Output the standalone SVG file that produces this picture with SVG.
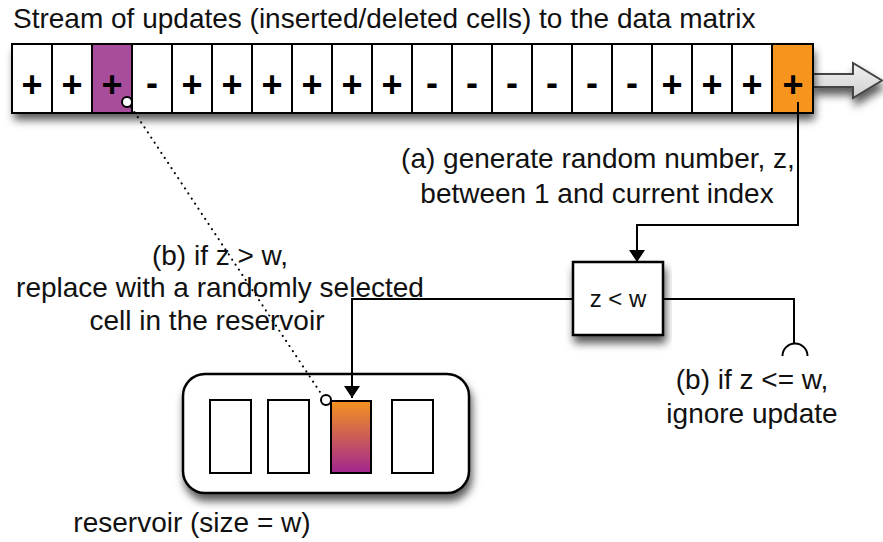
<svg xmlns="http://www.w3.org/2000/svg" width="883" height="542" viewBox="0 0 883 542">
  <style>
    .lbl { font-family: "Liberation Sans", Arial, Helvetica, sans-serif; font-size: 28px; fill: #111; }
    .sign { font-family: "Liberation Sans", Arial, sans-serif; font-size: 36px; font-weight: bold; fill: #000; text-anchor: middle; }
    .cell { fill: #fff; stroke: #000; stroke-width: 2; }
    .box { fill: #fff; stroke: #000; stroke-width: 2.5; }
    .wire { fill: none; stroke: #000; stroke-width: 2; }
    .dots { fill: none; stroke: #000; stroke-width: 2; stroke-dasharray: 0.1 6; stroke-linecap: round; }
    .ring { fill: #fff; stroke: #000; stroke-width: 2; }
  </style>
  <defs>
    <filter id="shadow" x="-10%" y="-20%" width="120%" height="170%">
      <feDropShadow dx="2" dy="7" stdDeviation="4.5" flood-color="#000" flood-opacity="0.65"/>
    </filter>
    <linearGradient id="swap" x1="0" y1="0" x2="0" y2="1">
      <stop offset="0" stop-color="#f4931f"/>
      <stop offset="1" stop-color="#a2268f"/>
    </linearGradient>
    <linearGradient id="pipe" x1="0" y1="0" x2="0" y2="1">
      <stop offset="0" stop-color="#f2f2f2"/>
      <stop offset="1" stop-color="#cfcfcf"/>
    </linearGradient>
    <marker id="head" viewBox="0 0 12 16" refX="12" refY="8" markerWidth="12" markerHeight="16" markerUnits="userSpaceOnUse" orient="auto">
      <path d="M0,0 L12,8 L0,16 Z" fill="#000"/>
    </marker>
  </defs>

  <rect width="883" height="542" fill="#fff"/>

  <!-- title -->
  <text id="title" class="lbl" x="13" y="28">Stream of updates (inserted/deleted cells) to the data matrix</text>

  <!-- outgoing stream arrow -->
  <g id="stream-arrow" filter="url(#shadow)">
    <polygon points="813,74 853,74 853,63 882,80.5 853,98 853,87 813,87" fill="url(#pipe)" stroke="#444" stroke-width="2"/>
  </g>

  <!-- update stream: 20 cells -->
  <g id="stream">
    <rect x="12" y="44" width="801" height="69" fill="#fff" filter="url(#shadow)"/>
    <rect class="cell" x="12" y="44" width="40" height="69"/>
    <rect class="cell" x="52" y="44" width="40" height="69"/>
    <rect class="cell" x="92" y="44" width="40" height="69" style="fill:#a84c9c"/>
    <rect class="cell" x="132" y="44" width="40" height="69"/>
    <rect class="cell" x="172" y="44" width="40" height="69"/>
    <rect class="cell" x="212" y="44" width="40" height="69"/>
    <rect class="cell" x="252" y="44" width="40" height="69"/>
    <rect class="cell" x="292" y="44" width="40" height="69"/>
    <rect class="cell" x="332" y="44" width="40" height="69"/>
    <rect class="cell" x="372" y="44" width="40" height="69"/>
    <rect class="cell" x="412" y="44" width="40" height="69"/>
    <rect class="cell" x="452" y="44" width="40" height="69"/>
    <rect class="cell" x="492" y="44" width="40" height="69"/>
    <rect class="cell" x="532" y="44" width="40" height="69"/>
    <rect class="cell" x="572" y="44" width="40" height="69"/>
    <rect class="cell" x="612" y="44" width="40" height="69"/>
    <rect class="cell" x="652" y="44" width="40" height="69"/>
    <rect class="cell" x="692" y="44" width="40" height="69"/>
    <rect class="cell" x="732" y="44" width="40" height="69"/>
    <rect class="cell" x="772" y="44" width="41" height="69" style="fill:#f7941d"/>
    <text class="sign" x="32" y="97">+</text>
    <text class="sign" x="72" y="97">+</text>
    <text class="sign" x="112" y="97">+</text>
    <text class="sign" x="152" y="95">-</text>
    <text class="sign" x="192" y="97">+</text>
    <text class="sign" x="232" y="97">+</text>
    <text class="sign" x="272" y="97">+</text>
    <text class="sign" x="312" y="97">+</text>
    <text class="sign" x="352" y="97">+</text>
    <text class="sign" x="392" y="97">+</text>
    <text class="sign" x="432" y="95">-</text>
    <text class="sign" x="472" y="95">-</text>
    <text class="sign" x="512" y="95">-</text>
    <text class="sign" x="552" y="95">-</text>
    <text class="sign" x="592" y="95">-</text>
    <text class="sign" x="632" y="95">-</text>
    <text class="sign" x="672" y="97">+</text>
    <text class="sign" x="712" y="97">+</text>
    <text class="sign" x="752" y="97">+</text>
    <text class="sign" x="793" y="97">+</text>
  </g>

  <!-- decision node -->
  <g id="decision">
    <rect class="box" x="573" y="262" width="90" height="73" filter="url(#shadow)"/>
    <text class="lbl" x="618" y="307" text-anchor="middle" style="font-size:24px">z &lt; w</text>
  </g>

  <!-- reservoir of w cells -->
  <g id="reservoir">
    <rect class="box" x="183" y="374" width="286" height="119" rx="22" filter="url(#shadow)"/>
    <rect class="cell" x="210" y="400" width="41" height="73"/>
    <rect class="cell" x="268" y="400" width="41" height="73"/>
    <rect class="cell" x="331" y="401" width="40" height="72" style="fill:url(#swap)"/>
    <rect class="cell" x="392" y="400" width="41" height="73"/>
  </g>

  <!-- connectors -->
  <g id="connectors">
    <path class="wire" d="M798,102 V225 H637 V262" marker-end="url(#head)"/>
    <path class="wire" d="M573,299 H352 V398" marker-end="url(#head)"/>
    <path class="wire" d="M663,299 H794 V344"/>
    <path class="wire" d="M782.5,356 A12.5,12.5 0 0 1 807.5,356"/>
    <path class="dots" d="M131,107 L322,395"/>
    <circle class="ring" cx="127" cy="102" r="5"/>
    <circle class="ring" cx="326" cy="400" r="5"/>
  </g>

  <!-- step labels -->
  <g id="label-a">
    <text class="lbl" x="598" y="168" text-anchor="middle">(a) generate random number, z,</text>
    <text class="lbl" x="597" y="203" text-anchor="middle">between 1 and current index</text>
  </g>
  <g id="label-b-replace">
    <text class="lbl" x="220" y="265" text-anchor="middle">(b) if z &gt; w,</text>
    <text class="lbl" x="220" y="297" text-anchor="middle">replace with a randomly selected</text>
    <text class="lbl" x="207" y="330" text-anchor="middle">cell in the reservoir</text>
  </g>
  <g id="label-b-ignore">
    <text class="lbl" x="752" y="389" text-anchor="middle">(b) if z &lt;= w,</text>
    <text class="lbl" x="752" y="423" text-anchor="middle">ignore update</text>
  </g>
  <g id="label-reservoir">
    <text class="lbl" x="192" y="532" text-anchor="middle">reservoir (size = w)</text>
  </g>
</svg>
